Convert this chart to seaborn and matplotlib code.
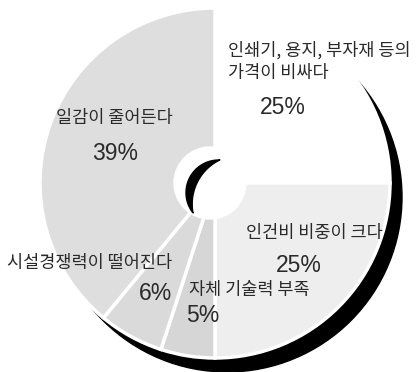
import numpy as np
import matplotlib
matplotlib.use("Agg")
import matplotlib.pyplot as plt
from matplotlib.patches import Circle, Polygon
import seaborn as sns

# ---- data ----
categories = ["인쇄기, 용지, 부자재 등의\n가격이 비싸다", "인건비 비중이 크다", "자체 기술력 부족",
              "시설경쟁력이 떨어진다", "일감이 줄어든다"]
values = [25, 25, 5, 6, 39]
pct_labels = ["25%", "25%", "5%", "6%", "39%"]
colors = ["#ffffff", "#eeeeee", "#d6d6d6", "#dadada", "#dedede"]

sns.set_theme(style="white")
plt.rcParams['font.family'] = ['Noto Sans CJK KR', 'DejaVu Sans']

W, H = 416, 372
fig = plt.figure(figsize=(W / 100, H / 100), dpi=100)
ax = fig.add_axes([0, 0, 1, 1])

def Y(py):
    return H - py

cx, cy, R = 215, 183, 175

# shadow
ax.add_patch(Circle((cx + 12, Y(cy + 14)), R, color="black", zorder=0))

wedges, _ = ax.pie(values, colors=colors, startangle=90, counterclock=False,
                   center=(cx, Y(cy)), radius=R, frame=True,
                   wedgeprops=dict(edgecolor="white", linewidth=2.5))
for w in wedges:
    w.set_zorder(2)
ax.set_xlim(0, W)
ax.set_ylim(0, H)
ax.set_aspect('equal')
ax.axis('off')

# hole
ax.add_patch(Circle((210, Y(183)), 36, color="white", zorder=3))

# crescent inside hole
cb, rb = np.array([218.7, 192.7]), 32.7
cw, rw = np.array([241.3, 204.1]), 49.1
A = np.array([220, 160]); B = np.array([193, 213])
def ang(c, p):
    return np.arctan2(p[1] - c[1], p[0] - c[0])
a1, a2 = ang(cb, A), ang(cb, B)
if a2 > a1:
    a2 -= 2 * np.pi
t1 = np.linspace(a1, a2, 80)
outer = np.c_[cb[0] + rb * np.cos(t1), cb[1] + rb * np.sin(t1)]
b1, b2 = ang(cw, B), ang(cw, A)
if b1 > b2:
    b1 -= 2 * np.pi
t2 = np.linspace(b1, b2, 80)
inner = np.c_[cw[0] + rw * np.cos(t2), cw[1] + rw * np.sin(t2)]
pts = np.vstack([outer, inner])
pts[:, 1] = H - pts[:, 1]
ax.add_patch(Polygon(pts, closed=True, color="black", zorder=4))

tc = "#2a2a2a"
fs, fp = 12.6, 16.5
pfam = ['Liberation Sans', 'DejaVu Sans']
# labels
ax.text(228, Y(50), "인쇄기, 용지, 부자재 등의", ha="left", va="center", fontsize=fs, color=tc, zorder=6)
ax.text(228, Y(73), "가격이 비싸다", ha="left", va="center", fontsize=fs, color=tc, zorder=6)
ax.text(283, Y(107), pct_labels[0], ha="center", va="center", fontsize=fp, color=tc, family=pfam, zorder=6)

ax.text(314, Y(233), categories[1], ha="center", va="center", fontsize=fs, color=tc, zorder=6)
ax.text(299, Y(265), pct_labels[1], ha="center", va="center", fontsize=fp, color=tc, family=pfam, zorder=6)

ax.text(249, Y(290), categories[2], ha="center", va="center", fontsize=fs, color=tc, zorder=6)
ax.text(203, Y(316), pct_labels[2], ha="center", va="center", fontsize=fp, color=tc, family=pfam, zorder=6)

ax.text(90, Y(263), categories[3], ha="center", va="center", fontsize=fs, color=tc, zorder=6)
ax.text(156, Y(293), pct_labels[3], ha="center", va="center", fontsize=fp, color=tc, family=pfam, zorder=6)

ax.text(114, Y(118), categories[4], ha="center", va="center", fontsize=fs, color=tc, zorder=6)
ax.text(115, Y(153), pct_labels[4], ha="center", va="center", fontsize=fp, color=tc, family=pfam, zorder=6)

fig.savefig("out.png", dpi=100, facecolor="white")
